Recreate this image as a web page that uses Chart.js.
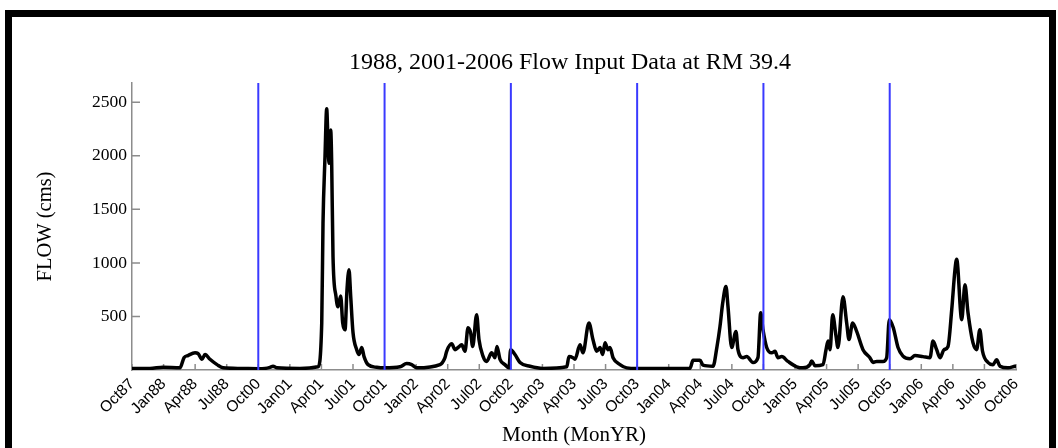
<!DOCTYPE html>
<html>
<head>
<meta charset="utf-8">
<script src="https://cdn.jsdelivr.net/npm/chart.js@4.4.1/dist/chart.umd.min.js"></script>
<style>
    body { margin: 0; background: #fff; }
    #wrap { position: absolute; left: 0; top: 0; width: 1058px; height: 448px; overflow: hidden; }
    #frame { position: absolute; left: 5px; top: 10px; width: 1037px; height: 500px; border: 7px solid #000; pointer-events: none; }
</style>
</head>
<body>
<div id="wrap">
    <canvas id="flowChart" width="1058" height="448"></canvas>
    <div id="frame"></div>
</div>
<script>
// months counted from Oct87 (water year 1988 then Oct00 .. Sep06)
const flowMonth = [
    0, 1.71, 2.95, 4.56, 4.94, 5.32, 5.99, 6.27, 6.65, 6.94, 7.41, 8.08, 8.65, 10.26, 12.0,
    12.64, 13.11, 13.40, 13.78, 15.96, 17.67, 18.03, 18.15, 18.34, 18.50, 18.62, 18.72, 18.88, 18.97,
    19.10, 19.38, 19.57, 19.83, 20.02, 20.24, 20.43, 20.62, 20.78, 21.00, 21.35, 21.57, 21.83, 22.05,
    22.43, 23.25, 24.0,
    25.47, 26.10, 26.58, 27.05, 29.27, 29.74, 29.90, 30.38, 30.69, 30.98, 31.33, 31.64, 31.93, 32.18,
    32.37, 32.75, 32.97, 33.35, 33.70, 34.18, 34.49, 34.68, 34.97, 35.44, 35.82,
    35.98, 36.39, 36.87, 37.82, 39.05, 41.31, 41.52, 41.90, 42.09, 42.57, 42.85, 43.42, 43.80, 44.16,
    44.47, 44.73, 44.95, 45.23, 45.42, 45.71, 46.37, 47.01, 47.99,
    53.02, 53.31, 53.97, 54.26, 55.21, 55.59, 55.87, 56.13, 56.44, 56.63, 56.98, 57.39, 57.58, 58.06,
    58.41, 59.01, 59.48, 59.74, 59.96,
    60.31, 60.79, 61.10, 61.38, 61.74, 62.33, 63.16, 63.76, 64.42, 64.58, 64.90, 65.66, 65.95, 66.14,
    66.33, 66.58, 66.90, 67.08, 67.56, 67.91, 68.13, 68.48, 68.86, 69.46, 70.12, 70.41, 70.76, 71.36,
    71.71, 71.96,
    72.34, 72.79, 73.26, 73.93, 74.40, 75.16, 75.83, 76.11, 76.46, 76.78, 77.16, 77.54, 77.89, 78.20,
    78.36, 78.84, 79.15, 79.44, 79.91, 80.26, 80.56, 80.82, 81.34, 81.81, 82.16, 82.48, 83.24, 83.90
];
const flowCms = [
    15, 15, 25, 20, 115, 135, 160, 154, 100, 145, 100, 50, 20, 15, 12,
    15, 25, 35, 20, 15, 30, 440, 1370, 1990, 2440, 2145, 1930, 2240, 1960,
    1060, 690, 590, 690, 440, 375, 750, 935, 690, 350, 190, 145, 210, 125,
    50, 25, 20,
    30, 60, 50, 20, 50, 115, 175, 245, 190, 210, 235, 175, 395, 345,
    220, 515, 285, 130, 80, 160, 115, 220, 100, 50, 20,
    190, 145, 70, 35, 15, 30, 125, 115, 100, 235, 160, 440, 285, 175,
    210, 145, 255, 190, 210, 115, 50, 20, 15,
    15, 90, 90, 45, 35, 220, 405, 625, 780, 595, 210, 360, 190, 115,
    125, 70, 115, 535, 375,
    210, 160, 175, 115, 125, 80, 30, 20, 50, 85, 40, 50, 190, 270,
    190, 515, 315, 210, 685, 440, 285, 440, 360, 190, 115, 70, 80, 80,
    115, 470,
    395, 210, 130, 105, 135, 125, 115, 270, 190, 115, 190, 220, 560, 935,
    1035, 470, 795, 535, 255, 190, 375, 175, 70, 50, 95, 35, 20, 35
];
const xTickLabels = ['Oct87', 'Jan88', 'Apr88', 'Jul88', 'Oct00', 'Jan01', 'Apr01', 'Jul01', 'Oct01',
    'Jan02', 'Apr02', 'Jul02', 'Oct02', 'Jan03', 'Apr03', 'Jul03', 'Oct03', 'Jan04', 'Apr04', 'Jul04',
    'Oct04', 'Jan05', 'Apr05', 'Jul05', 'Oct05', 'Jan06', 'Apr06', 'Jul06', 'Oct06'];
const yTickValues = [500, 1000, 1500, 2000, 2500];
const waterYearBreaks = [12, 24, 36, 48, 60, 72];
const yMax = 2680;

const serif = '"Liberation Serif", "Times New Roman", serif';
const axisGray = '#8c8c8c';

// small inward tick marks and the title
const chartDecor = {
    id: 'chartDecor',
    beforeDatasetsDraw(chart) {
        const ctx = chart.ctx;
        const x = chart.scales.x;
        const y = chart.scales.y;
        ctx.save();
        ctx.strokeStyle = axisGray;
        ctx.lineWidth = 1.5;
        ctx.beginPath();
        x.ticks.forEach(t => {
            const px = x.getPixelForValue(t.value);
            ctx.moveTo(px, y.bottom);
            ctx.lineTo(px, y.bottom - 6);
        });
        y.ticks.forEach(t => {
            const py = y.getPixelForValue(t.value);
            ctx.moveTo(x.left, py);
            ctx.lineTo(x.left + 8, py);
        });
        ctx.stroke();
        ctx.restore();
    },
    afterDraw(chart) {
        const ctx = chart.ctx;
        const area = chart.chartArea;
        ctx.save();
        ctx.fillStyle = '#000';
        ctx.font = '24px ' + serif;
        ctx.textAlign = 'center';
        ctx.textBaseline = 'middle';
        ctx.fillText('1988, 2001-2006 Flow Input Data at RM 39.4', (area.left + area.right) / 2 - 4, 63);
        ctx.restore();
    }
};

document.addEventListener('DOMContentLoaded', function() {
    const flowPoints = flowMonth.map((m, i) => ({ x: m, y: flowCms[i] }));

    const breakSets = waterYearBreaks.map(b => ({
        data: [{ x: b, y: 0 }, { x: b, y: yMax }],
        borderColor: '#3a3aff',
        borderWidth: 2,
        pointRadius: 0,
        order: 0
    }));

    new Chart(document.getElementById('flowChart'), {
        type: 'line',
        data: {
            datasets: [{
                label: 'Flow',
                data: flowPoints,
                borderColor: '#000',
                borderWidth: 3.5,
                pointRadius: 0,
                cubicInterpolationMode: 'monotone',
                borderJoinStyle: 'round',
                borderCapStyle: 'round',
                order: 1
            }].concat(breakSets)
        },
        options: {
            responsive: false,
            animation: false,
            devicePixelRatio: 1,
            layout: { padding: { left: 0, right: 42, top: 83, bottom: 0 } },
            plugins: {
                legend: { display: false },
                tooltip: { enabled: false }
            },
            scales: {
                x: {
                    type: 'linear',
                    min: 0,
                    max: 84,
                    afterBuildTicks: scale => {
                        scale.ticks = xTickLabels.map((l, i) => ({ value: i * 3 }));
                    },
                    afterFit: scale => { scale.height = 78; },
                    grid: { display: false, drawTicks: false },
                    border: { display: true, color: axisGray, width: 1.5 },
                    ticks: {
                        autoSkip: false,
                        minRotation: 45,
                        maxRotation: 45,
                        padding: 5,
                        color: '#000',
                        font: { family: '"Liberation Sans", Arial, sans-serif', size: 15.5 },
                        callback: (v, i) => xTickLabels[i]
                    },
                    title: {
                        display: true,
                        text: 'Month (MonYR)',
                        color: '#000',
                        font: { family: serif, size: 21 },
                        padding: { top: 0, bottom: 0 }
                    }
                },
                y: {
                    min: 0,
                    max: yMax,
                    afterBuildTicks: scale => {
                        scale.ticks = yTickValues.map(v => ({ value: v }));
                    },
                    afterFit: scale => { scale.width = 132; },
                    grid: { display: false, drawTicks: false },
                    border: { display: true, color: axisGray, width: 1.5 },
                    ticks: {
                        padding: 5,
                        color: '#000',
                        font: { family: serif, size: 17.5 },
                        callback: v => String(v)
                    },
                    title: {
                        display: true,
                        text: 'FLOW (cms)',
                        color: '#000',
                        font: { family: serif, size: 20.5 },
                        padding: { top: 33, bottom: 0 }
                    }
                }
            }
        },
        plugins: [chartDecor]
    });
});
</script>
</body>
</html>
